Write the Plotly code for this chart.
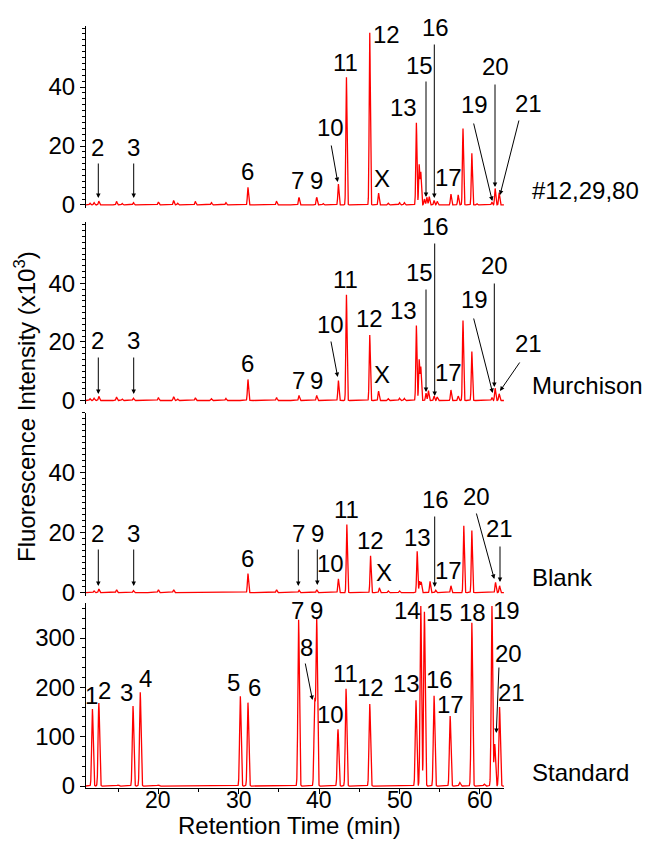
import numpy as np
import plotly.graph_objects as go
from plotly.subplots import make_subplots

# ---- peak tables: retention time (min) and height ----
# #12,29,80 (x10^3)
s1_rt = [11.5, 12.0, 12.6, 14.8, 15.5, 16.9, 20.0, 21.9, 22.4, 24.6, 26.6, 28.4,
         31.15, 34.7, 37.5, 39.7, 40.5, 42.4, 43.4, 46.3, 47.4, 48.6, 50.0, 50.6,
         52.1, 52.45, 52.65, 53.1, 53.4, 53.7, 54.3, 54.7, 56.4, 57.3, 57.9, 59.0,
         59.6, 61.5, 61.9, 62.4]
s1_h = [0.6, 0.8, 1.3, 1.2, 0.5, 0.8, 1.0, 1.5, 0.6, 1.2, 0.8, 0.8,
        6.0, 1.3, 2.6, 2.6, 0.5, 7.1, 43.3, 58.4, 4.0, 0.6, 0.8, 0.8,
        27.9, 13.6, 11.0, 2.0, 2.6, 2.8, 1.5, 1.2, 3.7, 3.4, 25.9, 17.5,
        0.5, 1.0, 5.6, 4.2]

# Murchison
s2_rt = [11.5, 12.0, 12.6, 14.8, 15.5, 16.9, 20.0, 21.9, 22.4, 24.6, 26.6, 28.4,
         31.15, 34.7, 37.5, 39.7, 42.4, 43.4, 46.3, 47.4, 48.6, 50.0, 50.6,
         52.1, 52.45, 52.65, 53.3, 53.6, 54.3, 54.7, 56.4, 57.3, 57.9, 59.0,
         61.5, 61.9, 62.4]
s2_h = [0.6, 0.8, 1.4, 1.2, 0.5, 0.8, 1.0, 1.3, 0.5, 0.9, 0.6, 0.7,
        7.2, 1.0, 1.7, 1.7, 6.8, 36.1, 22.4, 3.2, 0.6, 0.8, 0.7,
        25.6, 13.9, 11.4, 2.5, 3.4, 1.5, 1.2, 3.6, 1.5, 27.3, 16.7,
        1.0, 4.2, 2.3]

# Blank
s3_rt = [12.0, 12.6, 14.8, 16.9, 20.0, 21.9, 31.15, 34.7, 37.5, 39.7,
         42.4, 43.45, 46.4, 47.5, 48.6, 50.0, 52.2, 52.5, 52.7, 53.8,
         54.5, 56.4, 58.0, 59.0, 61.95, 62.45]
s3_h = [0.6, 1.2, 1.0, 0.7, 1.0, 1.0, 6.4, 1.0, 0.8, 1.0,
        4.6, 22.7, 12.3, 1.6, 0.6, 0.6, 13.8, 3.8, 3.5, 3.8,
        0.8, 2.3, 22.3, 20.7, 3.4, 2.3]

# Standard
s4_rt = [11.8, 12.6, 15.0, 16.85, 17.75, 20.0, 30.2, 31.15, 37.45, 39.45, 39.7,
         42.35, 43.35, 46.3, 52.05, 52.65, 53.1, 54.3, 56.3, 57.5, 59.0,
         60.55, 61.5, 61.85, 62.45]
s4_h = [156, 168, 2, 162, 190, 2, 182, 169, 337, 170, 337,
        115, 197, 166, 174, 365, 353, 183, 142, 7, 331,
        4, 365, 85, 160]

sample_names = ["#12,29,80", "Murchison", "Blank", "Standard"]
time_ticks = [20, 30, 40, 50, 60]

t_axis = np.arange(11.0, 63.0, 0.01)


def trace_from_peaks(rt, h, sigma):
    y = np.zeros_like(t_axis)
    for t0, a in zip(rt, h):
        y += a * np.exp(-0.5 * ((t_axis - t0) / sigma) ** 2)
    return y


panels = [(s1_rt, s1_h, 0.07), (s2_rt, s2_h, 0.07),
          (s3_rt, s3_h, 0.07), (s4_rt, s4_h, 0.09)]

FONT = "Arial, Liberation Sans, sans-serif"
FS = 24
W, H = 646, 841
ML, MR, MT, MB = 86, 142, 26, 53
PW, PH = W - ML - MR, H - MT - MB

fig = make_subplots(rows=4, cols=1, shared_xaxes=True, vertical_spacing=0.01)

for i, (rt, h, sg) in enumerate(panels, start=1):
    fig.add_trace(go.Scatter(x=t_axis, y=trace_from_peaks(rt, h, sg), mode="lines",
                             line=dict(color="#ff0000", width=1.3),
                             hoverinfo="skip"), row=i, col=1)

domains = [[0.7605, 1.0], [0.5039, 0.7430], [0.2516, 0.4925], [0.0, 0.2428]]
ranges = [[-1.2, 60.7], [-1.2, 61.0], [-1.2, 60.0], [-4, 371]]

for i in range(1, 5):
    top = i < 4
    fig.update_yaxes(
        row=i, col=1, domain=domains[i - 1], range=ranges[i - 1],
        tickvals=[0, 20, 40] if top else [0, 100, 200, 300],
        ticks="outside", ticklen=5, tickwidth=1, tickcolor="black",
        minor=dict(dtick=2 if top else 20, tick0=0, ticks="outside",
                   ticklen=3, tickcolor="black", tickwidth=1),
        showline=True, linecolor="black", linewidth=1,
        showgrid=False, zeroline=False,
        tickfont=dict(family=FONT, size=FS, color="black"),
    )
    if top:
        fig.update_xaxes(row=i, col=1, visible=False, range=[11, 63])

# bottom time axis: tick marks from the axis, labels placed just below it
fig.update_xaxes(
    row=4, col=1, range=[11, 63], tickvals=time_ticks, showticklabels=False,
    ticks="outside", ticklen=5, tickwidth=1, tickcolor="black",
    minor=dict(dtick=5, tick0=0, ticks="outside", ticklen=3,
               tickcolor="black", tickwidth=1),
    showline=True, linecolor="black", linewidth=1,
    showgrid=False, zeroline=False,
)


def px_to_paper(px, py):
    return (px - ML) / PW, 1 - (py - MT) / PH


annotations = []

tick_y = px_to_paper(0, 800)[1]
for v in time_ticks:
    annotations.append(dict(x=v, y=tick_y, xref="x4", yref="paper", text=str(v),
                            showarrow=False, xanchor="center", yanchor="middle",
                            font=dict(family=FONT, size=23, color="black")))


def label(px, py, text, xanchor="center", angle=0, yanchor="middle"):
    x, y = px_to_paper(px, py)
    annotations.append(dict(x=x, y=y, xref="paper", yref="paper", text=text,
                            showarrow=False, xanchor=xanchor, yanchor=yanchor,
                            textangle=angle,
                            font=dict(family=FONT, size=FS, color="black")))


def arrow(x0, y0, x1, y1):
    x, y = px_to_paper(x1, y1)
    annotations.append(dict(x=x, y=y, xref="paper", yref="paper", text="",
                            showarrow=True, ax=x0 - x1, ay=y0 - y1,
                            arrowhead=2, arrowsize=0.9, arrowwidth=1,
                            arrowcolor="black", standoff=0, startstandoff=0))


# #12,29,80
label(97.7, 147, "2"); arrow(98.3, 162, 98.3, 198)
label(133.7, 147, "3"); arrow(133.7, 162, 133.7, 198)
label(247, 172, "6")
label(297.7, 181, "7"); label(316.7, 181, "9")
label(330.7, 128, "10"); arrow(331, 144, 337.7, 182)
label(345.7, 62, "11")
label(371, 34, "12", xanchor="left")
label(382.3, 179, "X")
label(403.3, 107, "13")
label(419, 65, "15"); arrow(426, 80, 426, 197)
label(435, 28, "16"); arrow(434.3, 43, 434.3, 198)
label(448.3, 177, "17")
label(474, 105, "19"); arrow(473.3, 122, 492.3, 201)
label(495, 67, "20"); arrow(495, 83, 495, 187)
label(528.3, 103, "21"); arrow(519.3, 119, 500, 195)
label(530, 190, sample_names[0], xanchor="left")

# Murchison
label(97.7, 340, "2"); arrow(98.3, 356, 98.3, 394)
label(133.7, 340, "3"); arrow(133.7, 356, 133.7, 394)
label(247.3, 363, "6")
label(298.3, 380, "7"); label(316.7, 380, "9")
label(330.7, 324, "10"); arrow(330.7, 340, 337.7, 377)
label(345.7, 280, "11")
label(369.3, 318, "12")
label(381.7, 374, "X")
label(403.3, 310, "13")
label(419, 272, "15"); arrow(426, 288, 426, 392)
label(435, 227, "16"); arrow(434.7, 242, 434.7, 396)
label(448.3, 373, "17")
label(474, 299, "19"); arrow(473.3, 317, 492.7, 393)
label(494.3, 265, "20"); arrow(494.3, 282, 494.3, 387)
label(528.3, 343, "21"); arrow(520.7, 361, 500, 391)
label(530, 385, sample_names[1], xanchor="left")

# Blank
label(97.7, 533, "2"); arrow(98.3, 548, 98.3, 586)
label(133.7, 533, "3"); arrow(133.7, 548, 133.7, 586)
label(247.3, 558, "6")
label(298.3, 533, "7"); arrow(298.3, 548, 298.3, 586)
label(317.3, 533, "9"); arrow(317.3, 548, 317.3, 585)
label(330.7, 563, "10")
label(346.7, 509, "11")
label(370.7, 540, "12")
label(384, 572, "X")
label(417.3, 537, "13")
label(435, 499, "16"); arrow(434.7, 515, 434.7, 587)
label(448.3, 570, "17")
label(476, 496, "20"); arrow(476, 512, 494.3, 579)
label(499, 528, "21"); arrow(500, 545, 500, 582)
label(530, 577, sample_names[2], xanchor="left")

# Standard
label(91.7, 695, "1")
label(104, 690, "2")
label(126.7, 692, "3")
label(145.7, 678, "4")
label(233.3, 682, "5")
label(254, 687, "6")
label(297.7, 610, "7")
label(316.7, 610, "9")
label(306, 647, "8"); arrow(305, 662, 312.5, 700)
label(330, 714, "10")
label(345.7, 673, "11")
label(370, 687, "12")
label(406.7, 683, "13")
label(407.3, 610, "14")
label(439.3, 612, "15")
label(439.3, 679, "16")
label(450, 704, "17")
label(472.3, 612, "18")
label(506.7, 610, "19")
label(508.3, 653, "20"); arrow(499, 666, 496.3, 733)
label(511.7, 692, "21")
label(530, 772, sample_names[3], xanchor="left")

# axis titles
label(289.5, 841, "Retention Time (min)", yanchor="bottom")
label(25, 407, "Fluorescence Intensity (x10<sup>3</sup>)", angle=-90)

fig.update_layout(
    width=W, height=H, margin=dict(l=ML, r=MR, t=MT, b=MB, autoexpand=False),
    plot_bgcolor="white", paper_bgcolor="white", showlegend=False,
    annotations=annotations,
)

fig.write_html("out.html")
